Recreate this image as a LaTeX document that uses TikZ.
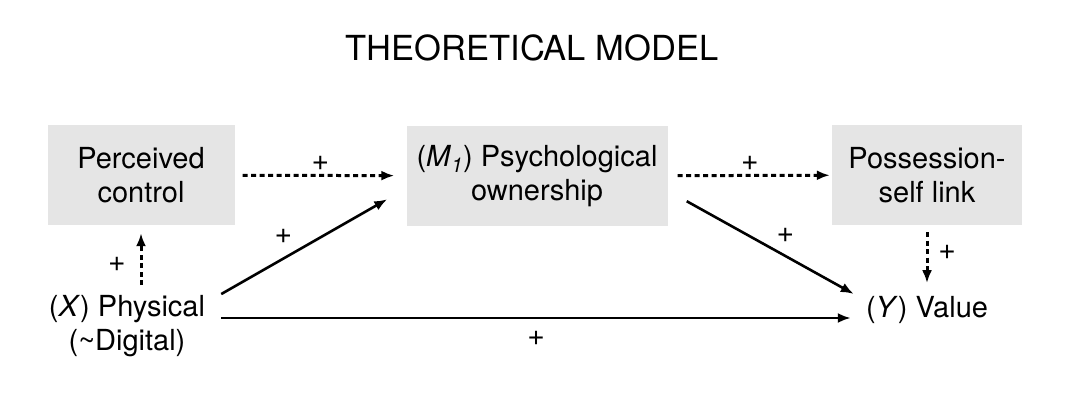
\documentclass[tikz,border=0pt]{standalone}
\usepackage{fontspec}
\setmainfont{TeX Gyre Heros}
\usepackage{tikz}
\usetikzlibrary{positioning, arrows.meta}
\newcommand{\bodyFont}{\fontsize{29}{34}\selectfont}
\newcommand{\titleFont}{\fontsize{34.5}{40}\selectfont}
\newcommand{\plusFont}{\fontsize{30}{34}\selectfont}
\definecolor{boxColor}{RGB}{229,229,229}
\tikzstyle{diagram} = [x = 1pt, y = -1pt]
\tikzstyle{boxStyle} = [fill=boxColor, align=center, minimum height=100, inner sep=0, font=\bodyFont]
\tikzstyle{textStyle} = [align=center, inner sep=0, font=\bodyFont]
\tikzstyle{titleStyle} = [inner sep=0, font=\titleFont]
\tikzstyle{solidArrow} = [line width=2.6pt, -{Latex[length=13pt, width=10pt]}]
\tikzstyle{dashedArrow} = [solidArrow, line width=3pt, dash pattern=on 5pt off 3.5pt]
\tikzstyle{plusText} = [font=\plusFont, inner sep=0]
\newcommand{\plusAt}[1]{node [plusText, midway, shift={#1}] {+}}
\begin{document}
\begin{tikzpicture}[diagram]
  \useasboundingbox (0,0) rectangle (1078,404);
  \node [titleStyle] (title) at (532,48) {THEORETICAL MODEL};

  % boxes
  \node [boxStyle, minimum width=187] (control) at (141,175) {Perceived\\control};
  \node [boxStyle, minimum width=261] (ownership) at (537,176) {(\textit{M}\textsubscript{\textit{1}}) Psychological\\ownership};
  \node [boxStyle, minimum width=190] (link) at (927,175) {Possession-\\self link};

  % plain texts
  \node [textStyle] (physical) at (127,326) {(\textit{X}) Physical\\(\textasciitilde Digital)};
  \node [textStyle] (value) at (927,310) {(\textit{Y}) Value};

  % paths
  \draw [dashedArrow, shorten <=8, shorten >=12] (control) -- (ownership) \plusAt{(0,-12)};
  \draw [dashedArrow, shorten <=10, shorten >=2] (ownership) -- (link) \plusAt{(0,-12)};
  \draw [dashedArrow] ([shift={(0,-10)}]control.south |- physical.north) -- ([shift={(0,8)}]control.south) \plusAt{(-24,5)};
  \draw [dashedArrow] ([shift={(0,7)}]link.south) -- ([shift={(0,-13)}]link.south |- value.north) \plusAt{(20,-5)};
  \draw [solidArrow] ([shift={(16,-1)}]physical.north east) -- ([shift={(-19,-27)}]ownership.south west) \plusAt{(-21,-10)};
  \draw [solidArrow] ([shift={(16,-8)}]physical.east) -- ([shift={(-15,8)}]value.west) \plusAt{(0,20)};
  \draw [solidArrow] ([shift={(19,-25)}]ownership.south east) -- ([shift={(-12,-16)}]value.west) \plusAt{(15,-12)};
\end{tikzpicture}
\end{document}
